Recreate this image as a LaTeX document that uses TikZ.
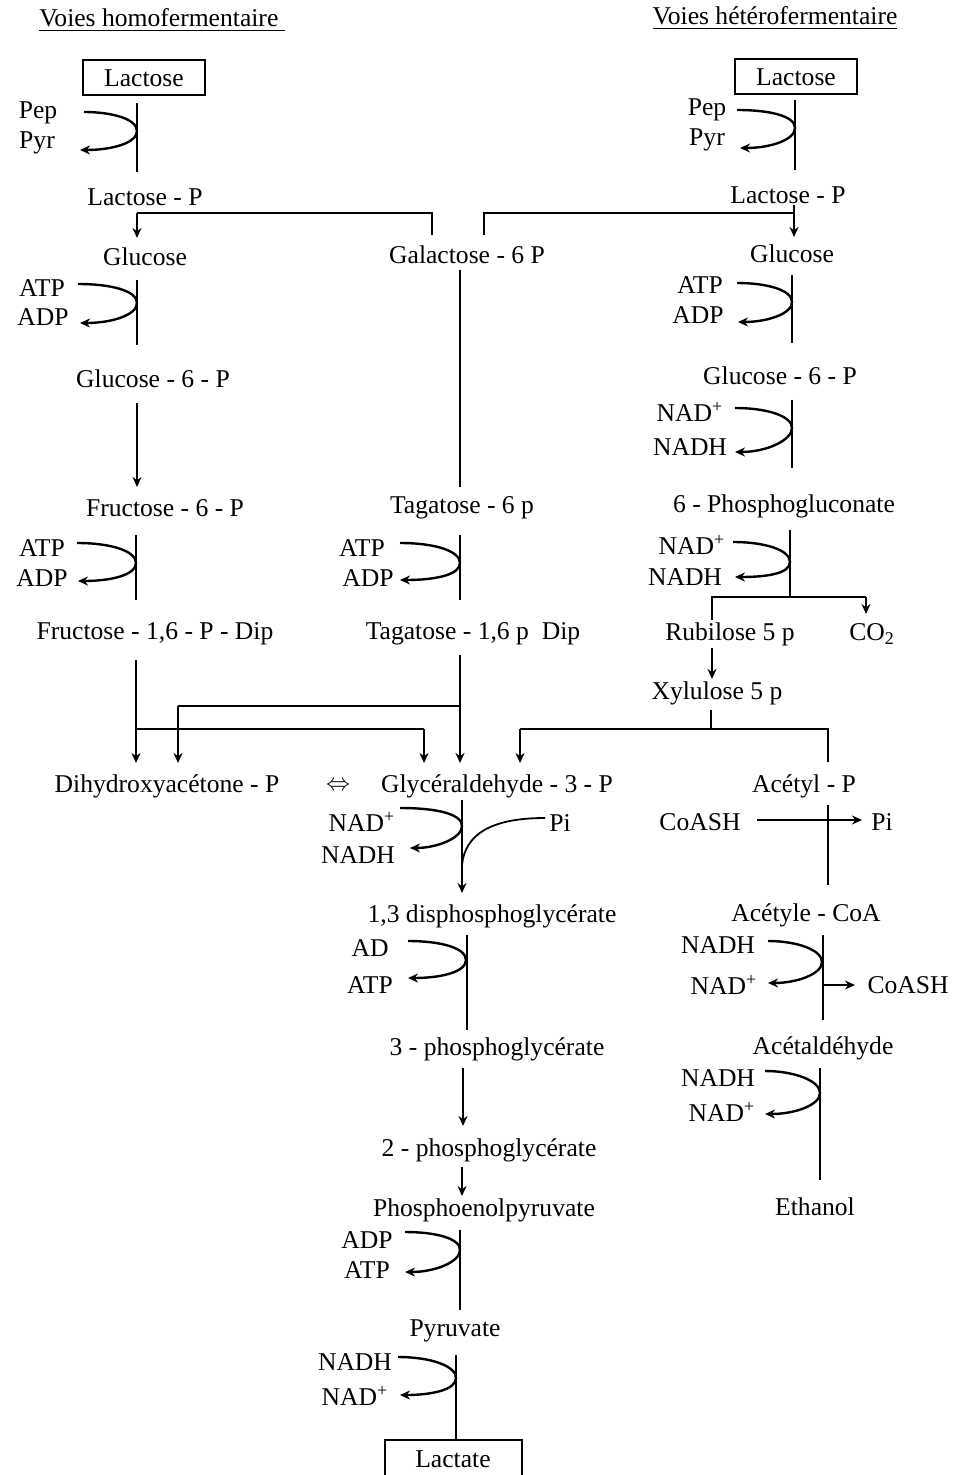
\documentclass[tikz,border=0pt]{standalone}
\usepackage{fontspec}
\setmainfont{Liberation Serif}
\usetikzlibrary{arrows.meta}
\newcommand\cofcurve[6]{%
  \draw[cof] (#1,#2) .. controls ({#3-25},#2) and (#3,{#4-12}) .. (#3,#4)
    .. controls (#3,{#4+12}) and ({#3-25},#6) .. (#5,#6);}
\begin{document}
\begin{tikzpicture}[x=0.5pt,y=-0.5pt,
  lbl/.style={inner sep=0pt, font=\fontsize{12.8}{14}\selectfont},
  ln/.style={line width=0.9pt},
  arr/.style={line width=0.9pt,-{Stealth[length=5pt,width=4.5pt]}},
  cof/.style={line width=1.2pt,-{Stealth[length=5pt,width=4.5pt]}},
  boxn/.style={draw,line width=1pt,inner sep=0pt,minimum width=61pt,minimum height=17.5pt,font=\fontsize{12.8}{14}\selectfont}]
\useasboundingbox (0,0) rectangle (952,1475);
\fill[white] (0,0) rectangle (952,1475);
% titles
\node[lbl] (t1) at (162,20) {\underline{Voies homofermentaire\ }};
\node[lbl] (t2) at (775,18) {\underline{Voies hétérofermentaire}};
% left column
\node[boxn] (lacL) at (144,78) {Lactose};
\node[lbl] (pepL) at (38,113) {Pep};
\node[lbl] (pyrL) at (37,143) {Pyr};
\node[lbl] (lacPL) at (145,197) {Lactose - P};
\node[lbl] (gluL) at (145,257) {Glucose};
\node[lbl] (atpL1) at (42,288) {ATP};
\node[lbl] (adpL1) at (43,317) {ADP};
\node[lbl] (g6pL) at (153,379) {Glucose - 6 - P};
\node[lbl] (f6p) at (165,508) {Fructose - 6 - P};
\node[lbl] (atpL2) at (42,548) {ATP};
\node[lbl] (adpL2) at (42,578) {ADP};
\node[lbl] (fdp) at (155,634) {Fructose - 1,6 - P - Dip};
\node[lbl] (dhap) at (167,786) {Dihydroxyacétone - P};
\node[lbl] (eq) at (338,786) {$\Leftrightarrow$};
% middle column
\node[lbl] (gal) at (467,255) {Galactose - 6 P};
\node[lbl] (tag6) at (462,508) {Tagatose - 6 p};
\node[lbl] (atpM) at (362,548) {ATP};
\node[lbl] (adpM) at (368,578) {ADP};
\node[lbl] (tagdp) at (473,634) {Tagatose - 1,6 p\ \ Dip};
\node[lbl] (gap) at (497,786) {Glycéraldehyde - 3 - P};
\node[lbl] (nadM1) at (362,822) {NAD\textsuperscript{+}};
\node[lbl] (nadhM1) at (358,855) {NADH};
\node[lbl] (piM) at (560,823) {Pi};
\node[lbl] (bpg) at (492,916) {1,3 disphosphoglycérate};
\node[lbl] (adM) at (370,948) {AD};
\node[lbl] (atpM2) at (370,985) {ATP};
\node[lbl] (pg3) at (497,1049) {3 - phosphoglycérate};
\node[lbl] (pg2) at (489,1150) {2 - phosphoglycérate};
\node[lbl] (pep) at (484,1210) {Phosphoenolpyruvate};
\node[lbl] (adpM3) at (367,1240) {ADP};
\node[lbl] (atpM3) at (367,1270) {ATP};
\node[lbl] (pyr) at (455,1331) {Pyruvate};
\node[lbl] (nadhM4) at (355,1362) {NADH};
\node[lbl] (nadM4) at (355,1396) {NAD\textsuperscript{+}};
\node[boxn,minimum width=68.5pt,minimum height=19pt] (lact) at (453,1459) {Lactate};
% right column
\node[boxn] (lacR) at (796,77) {Lactose};
\node[lbl] (pepR) at (707,110) {Pep};
\node[lbl] (pyrR) at (707,140) {Pyr};
\node[lbl] (lacPR) at (788,195) {Lactose - P};
\node[lbl] (gluR) at (792,254) {Glucose};
\node[lbl] (atpR) at (700,285) {ATP};
\node[lbl] (adpR) at (698,315) {ADP};
\node[lbl] (g6pR) at (780,376) {Glucose - 6 - P};
\node[lbl] (nadR1) at (690,412) {NAD\textsuperscript{+}};
\node[lbl] (nadhR1) at (690,447) {NADH};
\node[lbl] (pgl) at (784,506) {6 - Phosphogluconate};
\node[lbl] (nadR2) at (692,545) {NAD\textsuperscript{+}};
\node[lbl] (nadhR2) at (685,577) {NADH};
\node[lbl] (ru5p) at (730,634) {Rubilose 5 p};
\node[lbl] (co2) at (872,634) {CO\textsubscript{2}};
\node[lbl] (xu5p) at (717,693) {Xylulose 5 p};
\node[lbl] (acp) at (804,786) {Acétyl - P};
\node[lbl] (coash1) at (700,822) {CoASH};
\node[lbl] (piR) at (882,822) {Pi};
\node[lbl] (accoa) at (806,915) {Acétyle - CoA};
\node[lbl] (nadhR3) at (718,945) {NADH};
\node[lbl] (nadR3) at (724,985) {NAD\textsuperscript{+}};
\node[lbl,anchor=east] (coash2) at (949,985) {CoASH};
\node[lbl] (acald) at (823,1048) {Acétaldéhyde};
\node[lbl] (nadhR4) at (718,1078) {NADH};
\node[lbl] (nadR4) at (722,1112) {NAD\textsuperscript{+}};
\node[lbl] (etoh) at (815,1207) {Ethanol};
% ---- connectors, left
\draw[ln] (137,103) -- (137,172);
\cofcurve{84}{112}{137}{131}{80}{150}
\draw[ln] (432,235) -- (432,213) -- (137,213);
\draw[arr] (137,213) -- (137,238);
\draw[ln] (137,280) -- (137,345);
\cofcurve{78}{284}{137}{303}{80}{323}
\draw[arr] (137,403) -- (137,487);
\draw[ln] (136,535) -- (136,600);
\cofcurve{77}{543}{136}{563}{78}{581}
\draw[arr] (136,660) -- (136,763);
\draw[ln] (136,729) -- (424,729);
\draw[arr] (424,729) -- (424,763);
\draw[ln] (460,706) -- (178,706);
\draw[arr] (178,706) -- (178,763);
% ---- middle
\draw[ln] (484,235) -- (484,213) -- (794,213);
\draw[arr] (794,205) -- (794,237);
\draw[ln] (460,270) -- (460,487);
\draw[ln] (460,535) -- (460,600);
\cofcurve{400}{543}{460}{563}{400}{580}
\draw[arr] (460,655) -- (460,763);
\draw[ln] (520,729) -- (828,729) -- (828,762);
\draw[arr] (520,729) -- (520,763);
\draw[ln] (711,710) -- (711,729);
\draw[arr] (462,800) -- (462,893);
\cofcurve{400}{808}{462}{826}{410}{848}
\draw[ln] (545,818) .. controls (490,818) and (465,835) .. (462,865);
\draw[ln] (467,935) -- (467,1030);
\cofcurve{408}{941}{466}{960}{408}{978}
\draw[arr] (463,1068) -- (463,1126);
\draw[arr] (462,1167) -- (462,1196);
\draw[ln] (460,1230) -- (460,1310);
\cofcurve{405}{1232}{460}{1250}{405}{1272}
\draw[ln] (456,1355) -- (456,1441);
\cofcurve{398}{1357}{456}{1378}{400}{1395}
% ---- right
\draw[ln] (795,100) -- (795,170);
\cofcurve{737}{110}{795}{128}{740}{148}
\draw[ln] (792,275) -- (792,343);
\cofcurve{737}{283}{792}{302}{738}{322}
\draw[ln] (792,400) -- (792,468);
\cofcurve{735}{408}{792}{428}{735}{452}
\draw[ln] (790,530) -- (790,597);
\cofcurve{733}{542}{790}{562}{735}{577}
\draw[ln] (712,620) -- (712,597) -- (866,597);
\draw[arr] (866,597) -- (866,614);
\draw[arr] (712,648) -- (712,679);
\draw[ln] (828,805) -- (828,885);
\draw[arr] (757,820) -- (862,820);
\draw[ln] (823,935) -- (823,1020);
\cofcurve{768}{941}{822}{962}{768}{983}
\draw[arr] (823,985) -- (855,985);
\draw[ln] (820,1068) -- (820,1180);
\cofcurve{765}{1071}{820}{1093}{765}{1114}
\end{tikzpicture}
\end{document}
